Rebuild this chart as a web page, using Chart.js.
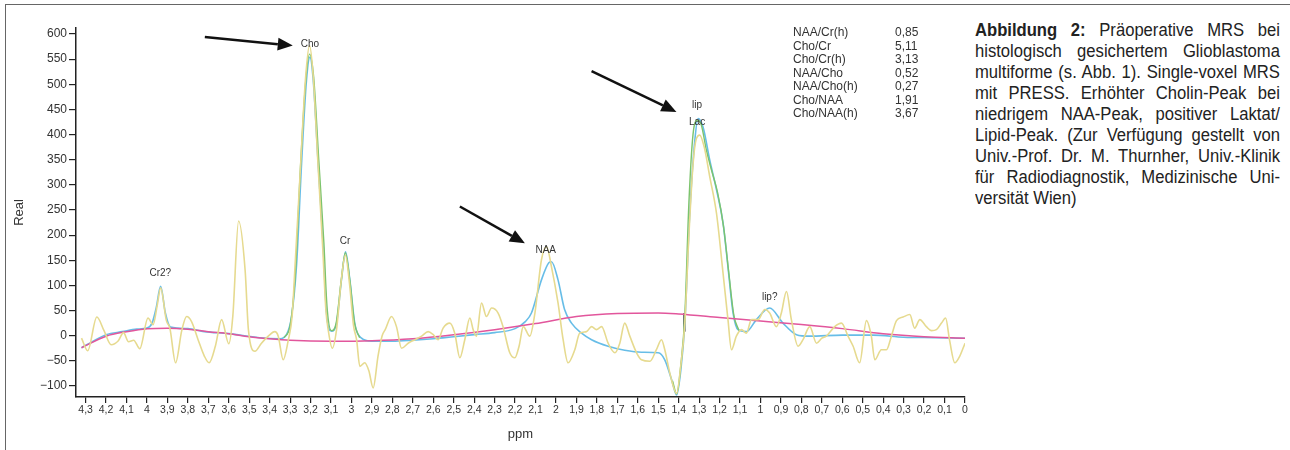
<!DOCTYPE html>
<html>
<head>
<meta charset="utf-8">
<script src="https://cdn.jsdelivr.net/npm/chart.js@4.4.1/dist/chart.umd.min.js"></script>
<style>
  html, body { margin: 0; padding: 0; background: #fff; }
  body { width: 1290px; height: 450px; position: relative; overflow: hidden; font-family: "Liberation Sans", Arial, sans-serif; }
  #frame { position: absolute; left: 5px; top: 4px; width: 1300px; height: 460px; border-top: 1.5px solid #666; border-left: 1.5px solid #666; }
  #chart { position: absolute; left: 0; top: 0; }
  .ratios { position: absolute; top: 26px; font-size: 12px; line-height: 13.5px; color: #333; }
  #caption { position: absolute; left: 975px; top: 19.5px; width: 321px; transform: scaleX(0.95); transform-origin: 0 0;
             font-size: 17.5px; line-height: 21px; color: #222; }
  #caption div { text-align: justify; text-align-last: justify; white-space: nowrap; }
  #caption div.last { text-align-last: left; }
</style>
</head>
<body>
<div id="frame"></div>
<canvas id="chart" width="975" height="450"></canvas>
<div class="ratios" id="ratioNames" style="left:793px"></div>
<div class="ratios" id="ratioValues" style="left:895px"></div>
<div id="caption">
  <div><b>Abbildung 2:</b> Präoperative MRS bei</div>
  <div>histologisch gesichertem Glioblastoma</div>
  <div>multiforme (s. Abb. 1). Single-voxel MRS</div>
  <div>mit PRESS. Erhöhter Cholin-Peak bei</div>
  <div>niedrigem NAA-Peak, positiver Laktat/</div>
  <div>Lipid-Peak. (Zur Verfügung gestellt von</div>
  <div>Univ.-Prof. Dr. M. Thurnher, Univ.-Klinik</div>
  <div>für Radiodiagnostik, Medizinische Uni-</div>
  <div class="last">versität Wien)</div>
</div>
<script>
// x ticks (ppm), y ticks (Real)
const xTicks = [4.3,4.2,4.1,4,3.9,3.8,3.7,3.6,3.5,3.4,3.3,3.2,3.1,3,2.9,2.8,2.7,2.6,2.5,2.4,2.3,2.2,2.1,2,
  1.9,1.8,1.7,1.6,1.5,1.4,1.3,1.2,1.1,1,0.9,0.8,0.7,0.6,0.5,0.4,0.3,0.2,0.1,0];
const yTicks = [-100,-50,0,50,100,150,200,250,300,350,400,450,500,550,600];

// raw spectrum (yellow)
const rawPpm = [4.32,4.29,4.245,4.21,4.175,4.14,4.115,4.09,4.065,4.035,3.995,3.97,3.95,3.933,3.905,3.888,3.86,3.83,
  3.806,3.782,3.75,3.72,3.696,3.665,3.635,3.6,3.58,3.552,3.52,3.504,3.472,3.44,3.407,3.375,3.358,3.334,3.31,3.29,
  3.277,3.25,3.225,3.205,3.187,3.165,3.14,3.125,3.114,3.094,3.073,3.05,3.03,3.01,2.99,2.975,2.959,2.935,2.915,2.894,
  2.87,2.85,2.835,2.804,2.78,2.755,2.723,2.69,2.657,2.625,2.6,2.576,2.552,2.519,2.495,2.47,2.446,2.421,2.405,2.389,
  2.364,2.34,2.315,2.283,2.259,2.226,2.201,2.18,2.16,2.128,2.103,2.071,2.046,2.022,1.99,1.965,1.941,1.908,1.884,
  1.851,1.826,1.802,1.777,1.745,1.712,1.688,1.664,1.639,1.606,1.582,1.541,1.509,1.484,1.468,1.44,1.41,1.39,1.37,
  1.35,1.33,1.315,1.297,1.275,1.248,1.215,1.183,1.159,1.142,1.118,1.093,1.069,1.044,1.012,0.979,0.955,0.922,0.898,
  0.873,0.849,0.816,0.792,0.759,0.726,0.7,0.678,0.637,0.604,0.572,0.547,0.515,0.482,0.458,0.441,0.409,0.384,0.36,
  0.335,0.303,0.27,0.246,0.221,0.189,0.164,0.14,0.115,0.095,0.075,0.05,0.026,0];
const rawReal = [-5,-30,37,10,-18,-10,6,-12,-9,-26,35,22,60,95,30,15,-54,10,
  38,28,-8,-40,-54,-20,32,-16,40,228,130,12,-31,-15,-1,8,-1,-48,-11,40,
  131,330,510,577,515,350,170,50,12,-25,12,110,160,105,20,-8,-61,-54,-70,-104,
  -40,0,12,38,18,-25,-15,-8,-1,8,2,-8,15,25,5,-44,-8,35,12,-1,
  65,38,55,45,18,-34,-44,-20,18,-1,45,151,177,137,65,-8,-54,-28,5,
  8,18,12,18,-15,-34,-15,25,-1,-34,-48,-51,-28,-8,-28,-80,-115,-60,25,
  200,340,390,399,375,316,243,124,32,-28,-1,12,5,32,32,52,45,18,45,
  88,32,-21,-8,18,-15,-5,-1,18,25,-1,-21,-54,30,-1,-48,-28,-28,-1,
  30,37,42,15,32,18,10,12,25,35,-10,-54,-41,-15];

// fitted spectrum (blue)
const fitPpm = [4.32,4.25,4.2,4.12,4.05,4,3.975,3.955,3.933,3.91,3.885,3.8,3.72,3.6,3.45,3.35,3.318,3.293,3.268,
  3.244,3.22,3.203,3.187,3.163,3.138,3.122,3.098,3.073,3.049,3.029,3.008,2.984,2.951,2.902,2.8,2.7,2.6,2.5,2.4,
  2.3,2.2,2.15,2.12,2.071,2.035,2.022,1.99,1.958,1.924,1.875,1.826,1.745,1.664,1.582,1.5,1.468,1.435,1.41,1.39,
  1.37,1.346,1.321,1.305,1.281,1.248,1.215,1.183,1.159,1.134,1.11,1.069,1.02,0.955,0.89,0.824,0.76,0.6,0.45,0.3,
  0.15,0];
const fitReal = [-24,-8,2,8,13,15,25,55,98,45,17,14,8,4,-4,-6,2,38,144,
  343,508,554,508,343,177,45,9,25,111,167,111,25,-5,-11,-11,-9,-6,-2,2,
  6,14,28,45,111,145,147,111,52,25,5,-8,-21,-29,-33,-34,-48,-87,-118,-70,
  25,243,389,432,415,349,290,224,137,45,12,8,32,55,25,2,-1,1,1,-3,
  -4,-5];

// peak component fit (green), shown on the main peaks only
const peakPpm = [3.33,3.3,3.275,3.25,3.225,3.205,3.185,3.16,3.135,3.12,3.098,3.075,3.05,3.03,3.008,2.985,2.96,null,
  1.43,1.41,1.39,1.37,1.35,1.33,1.31,1.29,1.265,1.24,1.21,1.18,1.155,1.13,1.105];
const peakReal = [-4,20,120,330,500,560,515,350,185,60,10,25,110,165,110,25,-4,null,
  -90,-116,-60,40,265,400,428,420,370,330,285,215,125,40,10];

// baseline (pink)
const basePpm = [4.32,4.2,4.1,4,3.9,3.8,3.7,3.6,3.5,3.4,3.3,3.1,2.9,2.7,2.5,2.3,2.1,1.9,1.7,1.5,1.4,1.2,1,0.8,0.6,0.4,0.2,0];
const baseReal = [-24,-1,8,14,15,13,8,4,-2,-6,-9,-11,-10,-6,2,12,24,38,44,45,43,36,29,22,14,4,-2,-5];

// black marker at the Lac zero crossing
const markPpm = [1.372, 1.372];
const markReal = [8, 45];

// peak labels
const peakLabels = ['Cho', 'Cr', 'Cr2?', 'NAA', 'lip', 'Lac', 'lip?'];
const peakLabelPpm = [3.203, 3.031, 3.935, 2.05, 1.31, 1.31, 0.955];
const peakLabelReal = [579, 188, 125, 169, 458, 425, 77];

// arrows [from ppm, from Real, to ppm, to Real]
const arrowFromPpm = [3.717, 2.47, 1.826];
const arrowFromReal = [594, 257, 526];
const arrowToPpm = [3.287, 2.152, 1.411];
const arrowToReal = [577, 184, 445];

// ratio table
const ratioNames = ['NAA/Cr(h)', 'Cho/Cr', 'Cho/Cr(h)', 'NAA/Cho', 'NAA/Cho(h)', 'Cho/NAA', 'Cho/NAA(h)'];
const ratioValues = ['0,85', '5,11', '3,13', '0,52', '0,27', '1,91', '3,67'];

document.getElementById('ratioNames').innerHTML = ratioNames.map(n => '<div>' + n + '</div>').join('');
document.getElementById('ratioValues').innerHTML = ratioValues.map(n => '<div>' + n + '</div>').join('');

function zip(xs, ys) {
  return xs.map((x, i) => (x === null ? { x: NaN, y: null } : { x: x, y: ys[i] }));
}

const annotations = {
  id: 'annotations',
  afterDatasetsDraw(chart) {
    const ctx = chart.ctx, xs = chart.scales.x, ys = chart.scales.y;
    ctx.save();
    ctx.font = '10px "Liberation Sans", Arial, sans-serif';
    ctx.fillStyle = '#333';
    ctx.textAlign = 'center';
    ctx.textBaseline = 'middle';
    peakLabels.forEach((t, i) => {
      ctx.fillText(t, xs.getPixelForValue(peakLabelPpm[i]), ys.getPixelForValue(peakLabelReal[i]));
    });
    ctx.strokeStyle = '#111';
    ctx.fillStyle = '#111';
    ctx.lineWidth = 2.5;
    arrowFromPpm.forEach((p, i) => {
      const x0 = xs.getPixelForValue(p), y0 = ys.getPixelForValue(arrowFromReal[i]);
      const x1 = xs.getPixelForValue(arrowToPpm[i]), y1 = ys.getPixelForValue(arrowToReal[i]);
      const a = Math.atan2(y1 - y0, x1 - x0), len = 15, w = 6.5;
      const bx = x1 - len * Math.cos(a), by = y1 - len * Math.sin(a);
      ctx.beginPath();
      ctx.moveTo(x0, y0);
      ctx.lineTo(bx, by);
      ctx.stroke();
      ctx.beginPath();
      ctx.moveTo(x1, y1);
      ctx.lineTo(bx + w * Math.sin(a), by - w * Math.cos(a));
      ctx.lineTo(bx - w * Math.sin(a), by + w * Math.cos(a));
      ctx.closePath();
      ctx.fill();
    });
    ctx.restore();
  }
};

Chart.defaults.font.family = '"Liberation Sans", Arial, sans-serif';
Chart.defaults.color = '#333';

new Chart(document.getElementById('chart').getContext('2d'), {
  type: 'line',
  data: {
    datasets: [
      { data: zip(rawPpm, rawReal), borderColor: '#e6da8f', borderWidth: 1.6, cubicInterpolationMode: 'monotone' },
      { data: zip(basePpm, baseReal), borderColor: '#e2569c', borderWidth: 1.5, cubicInterpolationMode: 'monotone' },
      { data: zip(peakPpm, peakReal), borderColor: '#7cc46c', borderWidth: 1.4, cubicInterpolationMode: 'monotone', spanGaps: false },
      { data: zip(fitPpm, fitReal), borderColor: 'rgba(86,182,228,0.9)', borderWidth: 1.6, cubicInterpolationMode: 'monotone' },
      { data: zip(markPpm, markReal), borderColor: '#111', borderWidth: 2 }
    ]
  },
  options: {
    responsive: false,
    animation: false,
    devicePixelRatio: 1,
    layout: { padding: { left: 10, top: 28, right: 10, bottom: 0 } },
    elements: { point: { radius: 0 }, line: { fill: false } },
    plugins: { legend: { display: false }, tooltip: { enabled: false } },
    scales: {
      x: {
        type: 'linear', reverse: true, min: 0, max: 4.347,
        afterBuildTicks: s => { s.ticks = xTicks.map(v => ({ value: v })); },
        afterFit: s => { s.height = 53; },
        grid: { drawOnChartArea: false, drawTicks: true, tickLength: 6, color: '#222', lineWidth: 1.2 },
        border: { display: true, color: '#222', width: 1.5 },
        ticks: { autoSkip: false, maxRotation: 0, padding: 1, font: { size: 10.5 }, color: '#333',
                 callback: v => String(v).replace('.', ',') },
        title: { display: true, text: 'ppm', font: { size: 13 }, color: '#333', padding: { top: 0, bottom: 8 } }
      },
      y: {
        min: -122, max: 612,
        afterBuildTicks: s => { s.ticks = yTicks.map(v => ({ value: v })); },
        afterFit: s => { s.width = 66; },
        grid: { drawOnChartArea: false, drawTicks: true, tickLength: 7, color: '#222', lineWidth: 1.2 },
        border: { display: true, color: '#222', width: 1.5 },
        ticks: { padding: 2, font: { size: 12 }, color: '#333', callback: v => String(v).replace('-', '\u2212') },
        title: { display: true, text: 'Real', font: { size: 13 }, color: '#333', padding: 2 }
      }
    }
  },
  plugins: [annotations]
});
</script>
</body>
</html>
